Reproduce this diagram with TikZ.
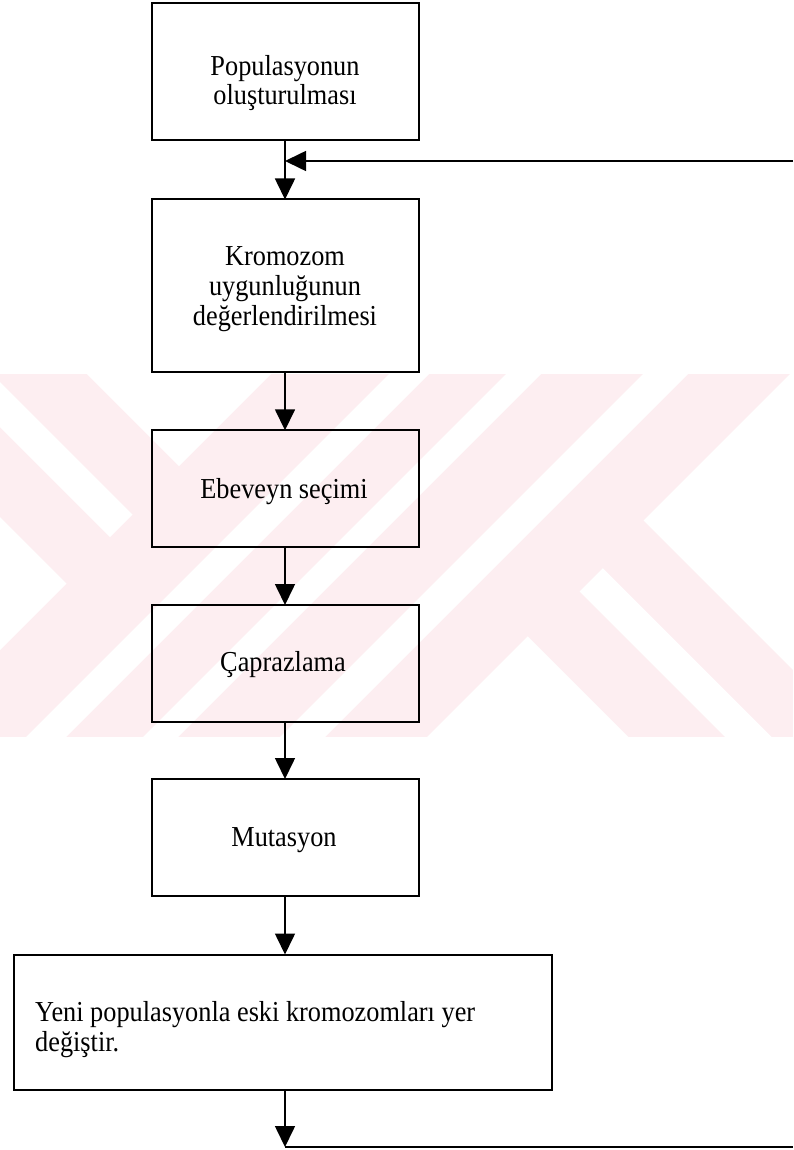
\documentclass[tikz,border=0pt]{standalone}
\usepackage{fontspec}
\usepackage{graphicx}
\setmainfont{Liberation Serif}
\usetikzlibrary{arrows.meta}
\definecolor{wmpink}{RGB}{253,238,241}
% slightly taller lettering
\newcommand{\tallfont}[1]{\scalebox{1}[1.1]{#1}}
\begin{document}
\begin{tikzpicture}[x=1pt,y=-1pt,
  box/.style={draw=black, line width=2pt, rectangle, inner sep=0pt, outer sep=0pt},
  flow/.style={draw=black, line width=1.6pt, -{Triangle[length=21pt,width=20pt]}},
  plain/.style={draw=black, line width=1.6pt},
  lbl/.style={inner sep=0pt, font=\fontsize{26.3}{27.3}\selectfont}]
\useasboundingbox (0,0) rectangle (793,1150);

% faint background logo band with diagonal stripes
\begin{scope}
  \clip (0,374) rectangle (793,737);
  \fill[wmpink] (0,374) rectangle (793,737);
  \fill[white] (110,537) -- (132.5,514.5) -- (-91,291) -- (-113.5,313.5) -- cycle;
  \fill[white] (179,466) -- (-121,166) -- (-121,0) -- (645,0) -- cycle;
  \fill[white] (66.5,583.5) -- (-100,417) -- (-100,750) -- cycle;
  \fill[white] (0,763) -- (763,0) -- (803,0) -- (0,803) -- cycle;
  \fill[white] (0,880) -- (880,0) -- (915,0) -- (0,915) -- cycle;
  \fill[white] (0,1017) -- (1017,0) -- (1062,0) -- (0,1062) -- cycle;
  \fill[white] (643.5,520.5) -- (943.5,220.5) -- (943.5,820.5) -- cycle;
  \fill[white] (527.65,636.35) -- (327.65,836.35) -- (727.65,836.35) -- cycle;
  \fill[white] (579.5,591.5) -- (602.85,568.15) -- (902.85,868.15) -- (879.5,891.5) -- cycle;
\end{scope}

% process boxes
\node[box, minimum width=267pt, minimum height=136.7pt] (b1) at (285,71.65) {};
\node[box, minimum width=267pt, minimum height=172.2pt] (b2) at (285,285.6) {};
\node[box, minimum width=267pt, minimum height=116.4pt] (b3) at (285,488.5) {};
\node[box, minimum width=267pt, minimum height=116.7pt] (b4) at (285,663.35) {};
\node[box, minimum width=267pt, minimum height=117pt] (b5) at (285,837.5) {};
\node[box, minimum width=538.3pt, minimum height=135.5pt] (b6) at (282.85,1022.25) {};

% box texts
\node[lbl, anchor=base] (t1) at (285,75.5)
  {\tallfont{\fontsize{26.3}{25.7}\selectfont\begin{tabular}[t]{@{}c@{}}Populasyonun\\oluşturulması\end{tabular}}};
\node[lbl, anchor=base] (t2) at (285,265.5)
  {\tallfont{\begin{tabular}[t]{@{}c@{}}Kromozom\\uygunluğunun\\değerlendirilmesi\end{tabular}}};
\node[lbl, anchor=base] (t3) at (284,498) {\tallfont{Ebeveyn seçimi}};
\node[lbl, anchor=base] (t4) at (283,671.7) {\tallfont{Çaprazlama}};
\node[lbl, anchor=base] (t5) at (284,846.7) {\tallfont{Mutasyon}};
\node[lbl, anchor=base west] (t6) at (35,1021)
  {\tallfont{\fontsize{26.3}{27.9}\selectfont\begin{tabular}[t]{@{}l@{}}Yeni populasyonla eski kromozomları yer\\değiştir.\end{tabular}}};

% loop end points
\coordinate (junc) at (285,161);
\coordinate (loopin) at (793,161);
\coordinate (loopout) at (285,1147);
\coordinate (loopexit) at (793,1147);

% connectors
\draw[flow] (b1.south) -- (b2.north);
\draw[flow] (loopin) -- (junc);
\draw[flow] (b2.south) -- (b3.north);
\draw[flow] (b3.south) -- (b4.north);
\draw[flow] (b4.south) -- (b5.north);
\draw[flow] (b5.south) -- (b5.south |- b6.north);
\draw[flow] (b5.south |- b6.south) -- (loopout);
\draw[plain] (loopout) -- (loopexit);
\end{tikzpicture}
\end{document}
